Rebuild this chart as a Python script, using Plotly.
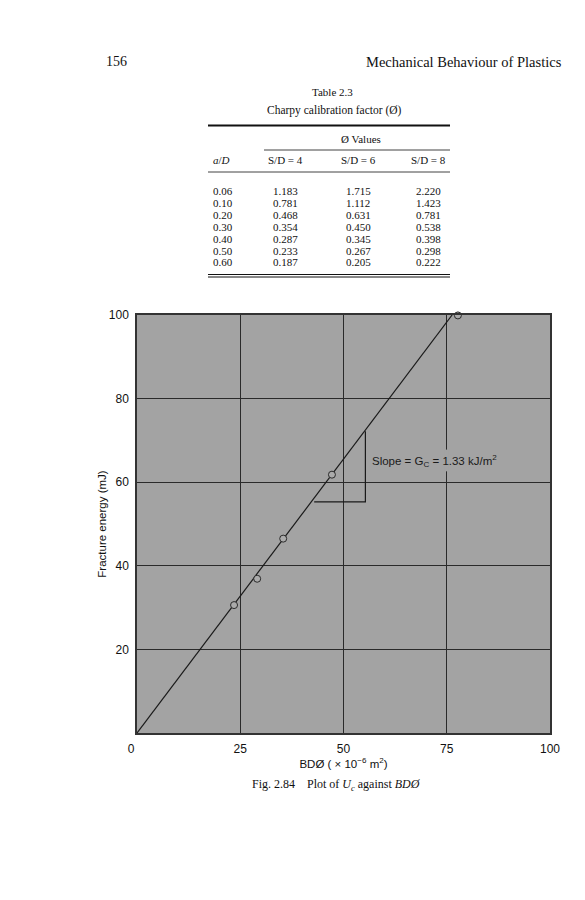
import plotly.graph_objects as go

# ---------------- data ----------------
# Table 2.3  Charpy calibration factor
a_over_D = ["0.06", "0.10", "0.20", "0.30", "0.40", "0.50", "0.60"]
phi_sd4 = ["1.183", "0.781", "0.468", "0.354", "0.287", "0.233", "0.187"]
phi_sd6 = ["1.715", "1.112", "0.631", "0.450", "0.345", "0.267", "0.205"]
phi_sd8 = ["2.220", "1.423", "0.781", "0.538", "0.398", "0.298", "0.222"]
table_headers = ["<i>a</i>/<i>D</i>", "S/D = 4", "S/D = 6", "S/D = 8"]

# Fig 2.84 measured points
bd_phi = [23.5, 29.1, 35.4, 47.2, 77.7]
fracture_energy = [30.6, 36.9, 46.5, 61.8, 99.9]
# fitted straight line through origin
fit_x = [0, 76.3]
fit_y = [0, 100]
# slope triangle
tri_x = [42.9, 55.3, 55.3]
tri_y = [55.3, 55.3, 72.2]

x_ticks = [0, 25, 50, 75, 100]
x_ticktext = ["0\u2002\u2002", "25", "50", "75", "100"]
y_ticks = [20, 40, 60, 80, 100]

# ---------------- layout helpers ----------------
W, H = 585, 900
L, R, T, B = 129, 542, 307, 725  # plot area in pixels


def px(x):
    return (x - L) / (R - L)


def py(y):
    return (B - y) / (B - T)


SERIF = "Liberation Serif"
SANS = "Liberation Sans"
BG = "#a3a3a3"
INK = "#1a1a1a"

fig = go.Figure()

fig.add_trace(go.Scatter(x=fit_x, y=fit_y, mode="lines",
                         line=dict(color=INK, width=1.2),
                         hoverinfo="skip", showlegend=False))
fig.add_trace(go.Scatter(x=tri_x, y=tri_y, mode="lines",
                         line=dict(color=INK, width=1.2),
                         hoverinfo="skip", showlegend=False))
fig.add_trace(go.Scatter(x=bd_phi, y=fracture_energy, mode="markers",
                         marker=dict(symbol="circle", size=7, color="#ababab",
                                     line=dict(color="#2a2a2a", width=1)),
                         cliponaxis=False, showlegend=False))

annotations = []
shapes = []


def text(x, y, s, size=11, anchor="center", family=SERIF, color="#111"):
    annotations.append(dict(x=px(x), y=py(y), xref="paper", yref="paper",
                            text=s, showarrow=False, xanchor=anchor,
                            yanchor="middle",
                            font=dict(family=family, size=size, color=color)))


def hrule(x0, x1, y, w=1.0):
    shapes.append(dict(type="line", xref="paper", yref="paper",
                       x0=px(x0), x1=px(x1), y0=py(y), y1=py(y),
                       line=dict(color="#111", width=w)))


# page header
text(96, 54, "156", size=14, anchor="left")
text(556, 54, "Mechanical Behaviour of Plastics", size=14.5, anchor="right")

# table
text(324, 84, "Table 2.3", size=11)
text(326, 102, "Charpy calibration factor (Ø)", size=11.5)
hrule(200, 442, 117.5, 2)
text(353, 131, "Ø Values", size=11)
hrule(256, 442, 142, 0.8)
col_x = [203, 277, 350, 420]
for i, h in enumerate(table_headers):
    text(col_x[i], 152, h, size=11, anchor="left" if i == 0 else "center")
hrule(200, 442, 164, 0.8)
for r in range(len(a_over_D)):
    yy = 183 + r * 11.9
    text(col_x[0], yy, a_over_D[r], anchor="left")
    text(col_x[1], yy, phi_sd4[r])
    text(col_x[2], yy, phi_sd6[r])
    text(col_x[3], yy, phi_sd8[r])
hrule(200, 442, 266.5, 1)
hrule(200, 442, 269, 1)

# slope annotation inside chart
annotations.append(dict(x=56.3, y=65.0, xref="x", yref="y", xanchor="left",
                        yanchor="middle", showarrow=False,
                        text="Slope = G<sub>C</sub> = 1.33 kJ/m<sup>2</sup>",
                        font=dict(family=SANS, size=11.5, color=INK)))
# gap in the 75 grid line behind the label
shapes.append(dict(type="rect", xref="x", yref="y", x0=74.5, x1=75.5,
                   y0=62.6, y1=67.8, fillcolor=BG, line=dict(width=0),
                   layer="above"))

# caption
text(328, 777, "Fig. 2.84&nbsp;&nbsp;&nbsp; Plot of <i>U</i><sub><i>c</i></sub> against <i>BDØ</i>",
     size=12)

axis_font = dict(family=SANS, size=12, color="#111")
fig.update_layout(
    width=W, height=H,
    margin=dict(l=L, r=W - R, t=T, b=H - B, pad=0),
    paper_bgcolor="white", plot_bgcolor=BG,
    showlegend=False,
    annotations=annotations, shapes=shapes,
    xaxis=dict(range=[0, 100], tickvals=x_ticks, ticktext=x_ticktext,
               showgrid=True, gridcolor="#2a2a2a", gridwidth=1.3,
               zeroline=False, showline=True, mirror=True,
               linecolor="#333", linewidth=1.5, ticks="",
               ticklabelstandoff=4, tickfont=axis_font,
               title=dict(text="BDØ ( × 10<sup>−6</sup> m<sup>2</sup>)",
                          font=dict(family=SANS, size=11.5, color="#111"),
                          standoff=2)),
    yaxis=dict(range=[0, 100], tickvals=y_ticks,
               showgrid=True, gridcolor="#2a2a2a", gridwidth=1.3,
               zeroline=False, showline=True, mirror=True,
               linecolor="#333", linewidth=1.5, ticks="",
               ticklabelstandoff=4, tickfont=axis_font,
               title=dict(text="Fracture energy (mJ)",
                          font=dict(family=SANS, size=11.5, color="#111"),
                          standoff=0)),
)

fig.write_html("out.html")
